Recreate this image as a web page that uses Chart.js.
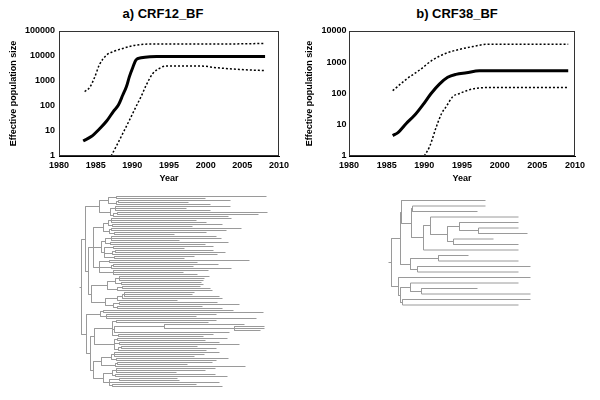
<!DOCTYPE html>
<html>
<head>
<meta charset="utf-8">
<script src="https://cdn.jsdelivr.net/npm/chart.js@4.4.0/dist/chart.umd.min.js"></script>
<style>
  body { margin: 0; background: #fff; }
  #wrap { position: relative; width: 600px; height: 400px; font-family: "Liberation Sans", Arial, sans-serif; }
  canvas { position: absolute; }
  .ttl { position: absolute; top: 6px; width: 120px; text-align: center; font-weight: bold; font-size: 13px; line-height: 16px; color: #000; }
</style>
</head>
<body>
<div id="wrap">
  <div class="ttl" style="left:103px">a) CRF12_BF</div>
  <div class="ttl" style="left:397px">b) CRF38_BF</div>
  <canvas id="skyA" width="300" height="190" style="left:0;top:0"></canvas>
  <canvas id="skyB" width="300" height="190" style="left:300px;top:0"></canvas>
  <canvas id="trees" width="600" height="210" style="left:0;top:190px"></canvas>
</div>
<script>
// --- a) CRF12_BF, values
var aMedYears = [1983.3, 1984.4, 1985.5, 1986.5, 1987.4, 1988.1, 1988.7, 1989.2, 1989.6, 1990.1, 1990.5, 1991.2, 1992.4, 1993.3, 2000, 2008.1];
var aMed      = [4, 6, 12, 25, 60, 110, 275, 600, 1500, 3700, 7000, 8500, 9400, 9500, 9500, 9500];
var aUpYears  = [1983.5, 1984.2, 1984.9, 1985.5, 1986.5, 1987.4, 1988.7, 1990.1, 1992.4, 2000, 2006, 2008.1];
var aUp       = [375, 560, 1500, 4400, 11000, 15000, 20000, 26000, 30000, 30000, 31000, 32000];
var aLoYears  = [1987.1, 1987.8, 1988.7, 1989.6, 1990.5, 1991.2, 1991.9, 1992.8, 1993.7, 1994.6, 1999.2, 2001.5, 2004.6, 2008.1];
var aLo       = [1, 2.4, 8, 27, 94, 240, 690, 2000, 3200, 4000, 4000, 3400, 2900, 2600];

// --- b) CRF38_BF
var bMedYears = [1985.8, 1986.5, 1987.6, 1988.7, 1989.8, 1990.9, 1992.0, 1993.1, 1994.2, 1995.6, 1997.3, 1998.7, 2009.1];
var bMed      = [4.5, 5.6, 11, 20, 43, 100, 200, 330, 410, 460, 530, 530, 530];
var bUpYears  = [1985.8, 1987.6, 1989.4, 1991.1, 1992.9, 1994.7, 1996.5, 1998.2, 2000, 2009.1];
var bUp       = [123, 285, 570, 1180, 1950, 2600, 3200, 3750, 3800, 3800];
var bLoYears  = [1990.0, 1990.7, 1991.6, 1992.3, 1992.9, 1993.8, 1994.7, 1995.6, 1996.9, 1998.7, 2009.1];
var bLo       = [1, 2, 8.7, 23, 38, 80, 100, 123, 147, 155, 155];

var xTicks  = [1980, 1985, 1990, 1995, 2000, 2005, 2010];
var aYTicks = [1, 10, 100, 1000, 10000, 100000];
var bYTicks = [1, 10, 100, 1000, 10000];

// --- trees: [branch length, child, child, ...], a bare number is a tip branch
var U1  = [14, [9, [8, 150, 89], [8, [2, 112, 70], 94]], [11, [5, 115, 71, 95], [3, [4, 150, 141], 115]]];
var A1  = [10, [5, [3, 120, 85, 95], [4, 110, 80]], [6, [2, 130, 115], [5, 92, 60]]];
var A2  = [8, [4, [6, 105, 110, 68], [5, 118, 95]], [3, [9, 100, 71], [8, [3, 98, 110], 105], [10, 80, 70]]];
var A3  = [6, [10, 140, 88], [12, [2, 105, 80], 120], [14, 95, 70, 84]];
var U2b = [3, [16, [8, [4, 90, 85, 84], [6, 80, 82]], [10, [5, 78, 88], 95]], [14, [12, [5, [2, 70, 68, 95], 100], 60], [8, [6, 98, 120], [4, 85, 105]]]];
var L1  = [14, [3, 130, 160], [6, 110, 90, 150]];
var L2  = [4, [18, [4, 100, 92], [2, [50, 80, [70, 30, 30, 26]], 115], [6, 95, 85]], [20, [3, 110, 88], [5, 100, 120], [4, [3, 76, 95], 88]]];
var L3  = [3, [8, [10, [3, 105, 90, 80], [5, 112, 100]], [14, [2, 95, 70], 130]], [10, [9, [4, 99, 89, 60], [3, 100, 112]], [6, [10, 58, 60], 110, [3, 84, 110]]]];
var treeA = [2, [4, U1, [3, [5, A1, A2, A3], U2b]], [5, L1, [4, L2, L3]]];

var treeB = [3,
  [9, [1, 84, [10, [1, 73, 65], [12, [7, 88, [17, [12, 59, [19, 40, 49]], [6, 40, 65]]], 95]]],
      [10, [28, 30, 80], [7, 113, 101]]],
  [7, 132, [2, [10, 108, [11, 56, 109]], [2, 128, 116]]]
];

function pts(xs, ys) {
  return xs.map(function (x, i) { return { x: x, y: ys[i] }; });
}

// walk the tree, tips get consecutive rows; returns the node row
function layout(node, x0, st, out) {
  var isNode = Array.isArray(node);
  var x = x0 + (isNode ? node[0] : node);
  var y;
  if (!isNode) {
    y = st.y0 + st.i * st.dy;
    st.i++;
  } else {
    var ys = node.slice(1).map(function (c) { return layout(c, x, st, out); });
    y = Math.floor((ys[0] + ys[ys.length - 1]) / 2) + 0.5;
    out.push({ x: x, y: ys[0] }, { x: x, y: ys[ys.length - 1] }, { x: null, y: null });
  }
  out.push({ x: x0, y: y }, { x: x, y: y }, { x: null, y: null });
  return y;
}

var frame = {
  id: 'frame',
  afterDraw: function (chart) {
    var a = chart.chartArea, ctx = chart.ctx;
    ctx.save();
    ctx.strokeStyle = '#333';
    ctx.lineWidth = 1;
    ctx.strokeRect(Math.round(a.left) + 0.5, Math.round(a.top) + 0.5, Math.round(a.width) - 1, Math.round(a.height) - 1);
    ctx.restore();
  }
};

var axisFont = { family: '"Liberation Sans", Arial, sans-serif', size: 9, weight: 'bold' };

function skyline(id, med, up, lo, yTicks, yWidth, padRight, yTitlePad, yTickPad) {
  var dotted = { borderColor: '#000', borderWidth: 1.5, borderDash: [2, 2], pointRadius: 0, cubicInterpolationMode: 'monotone' };
  new Chart(document.getElementById(id), {
    type: 'line',
    data: {
      datasets: [
        Object.assign({ data: up }, dotted),
        Object.assign({ data: lo }, dotted),
        { data: med, borderColor: '#000', borderWidth: 3, pointRadius: 0, cubicInterpolationMode: 'monotone' }
      ]
    },
    options: {
      responsive: false,
      animation: false,
      devicePixelRatio: 1,
      layout: { padding: { top: 31, right: padRight, left: 0, bottom: 0 } },
      plugins: { legend: { display: false }, tooltip: { enabled: false } },
      scales: {
        x: {
          type: 'linear', min: 1980, max: 2010,
          grid: { display: false, drawTicks: false },
          border: { color: '#000' },
          afterBuildTicks: function (s) { s.ticks = xTicks.map(function (v) { return { value: v }; }); },
          afterFit: function (s) { s.height = 34; },
          ticks: { color: '#000', font: axisFont, padding: 4, maxRotation: 0, autoSkip: false,
                   callback: function (v) { return String(v); } },
          title: { display: true, text: 'Year', color: '#000', font: axisFont, padding: { top: 0, bottom: 6 } }
        },
        y: {
          type: 'logarithmic', min: 1, max: yTicks[yTicks.length - 1],
          grid: { display: false, drawTicks: false },
          border: { color: '#000' },
          afterBuildTicks: function (s) { s.ticks = yTicks.map(function (v) { return { value: v }; }); },
          afterFit: function (s) { s.width = yWidth; },
          ticks: { color: '#000', font: axisFont, padding: yTickPad, autoSkip: false,
                   callback: function (v) { return String(v); } },
          title: { display: true, text: 'Effective population size', color: '#000', font: axisFont,
                   padding: { top: yTitlePad, bottom: 0 } }
        }
      }
    },
    plugins: [frame]
  });
}

skyline('skyA', pts(aMedYears, aMed), pts(aUpYears, aUp), pts(aLoYears, aLo), aYTicks, 59, 21, 8.5, 4);
skyline('skyB', pts(bMedYears, bMed), pts(bUpYears, bUp), pts(bLoYears, bLo), bYTicks, 49, 25, 4, 2.5);

var segA = [], segB = [];
layout(treeA, 79.5, { y0: 196.5, dy: 2, i: 0 }, segA);
layout(treeB, 388.5, { y0: 200.5, dy: 5.5, i: 0 }, segB);

var treeLine = { showLine: true, borderColor: '#9a9a9a', borderWidth: 1, pointRadius: 0, spanGaps: false };
new Chart(document.getElementById('trees'), {
  type: 'scatter',
  data: { datasets: [Object.assign({ data: segA }, treeLine), Object.assign({ data: segB }, treeLine)] },
  options: {
    responsive: false,
    animation: false,
    devicePixelRatio: 1,
    layout: { padding: 0 },
    plugins: { legend: { display: false }, tooltip: { enabled: false } },
    scales: {
      x: { type: 'linear', min: 0, max: 600, display: false },
      y: { type: 'linear', min: 190, max: 400, reverse: true, display: false }
    }
  }
});
</script>
</body>
</html>
